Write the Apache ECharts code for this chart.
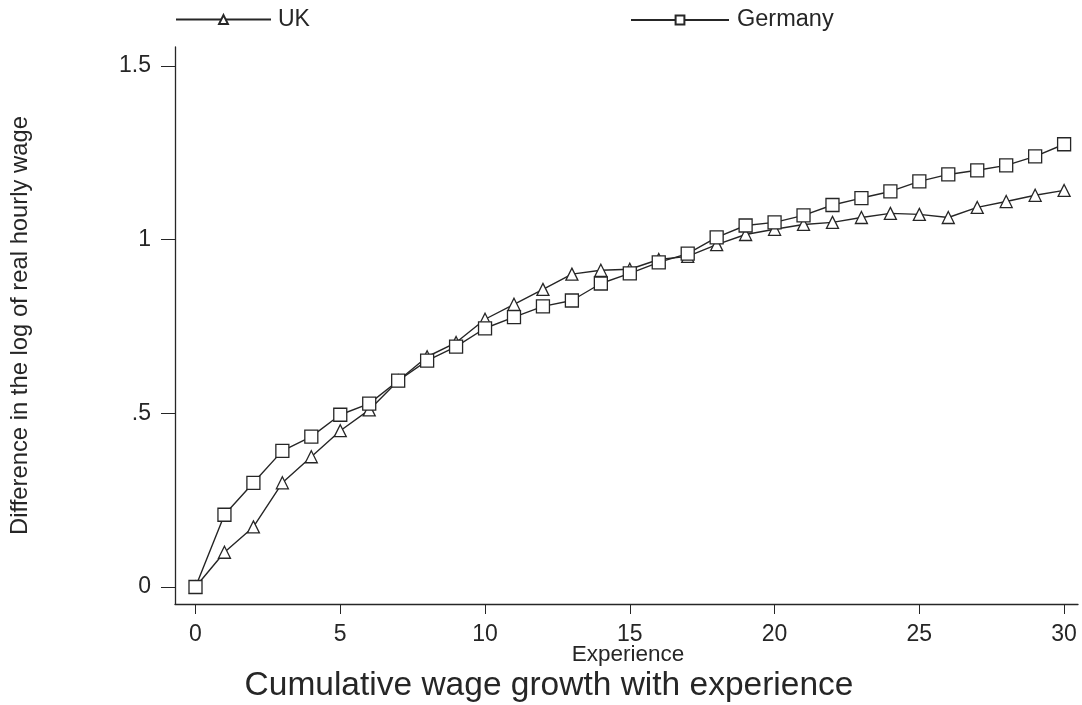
<!DOCTYPE html>
<html>
<head>
<meta charset="utf-8">
<title>Cumulative wage growth with experience</title>
<script src="https://cdn.jsdelivr.net/npm/echarts@6/dist/echarts.min.js"></script>
<style>
  html, body { margin: 0; padding: 0; background: #ffffff; }
  #chart { width: 1082px; height: 705px; }
</style>
</head>
<body>
<div id="chart"></div>
<script>
// Years of experience
const experience = [0,1,2,3,4,5,6,7,8,9,10,11,12,13,14,15,16,17,18,19,20,21,22,23,24,25,26,27,28,29,30];

// Difference in the log of real hourly wage, by country
const ukValues = [0, 0.10, 0.173, 0.30, 0.375, 0.45, 0.51, 0.594, 0.663, 0.704, 0.771, 0.814, 0.857,
  0.901, 0.912, 0.915, 0.943, 0.952, 0.986, 1.015, 1.03, 1.044, 1.05, 1.064, 1.076, 1.073,
  1.064, 1.093, 1.11, 1.128, 1.142];
const germanyValues = [0, 0.208, 0.30, 0.392, 0.433, 0.496, 0.528, 0.594, 0.652, 0.692, 0.745, 0.777,
  0.808, 0.825, 0.874, 0.903, 0.935, 0.96, 1.007, 1.041, 1.05, 1.07, 1.10, 1.12, 1.139, 1.168,
  1.188, 1.20, 1.214, 1.24, 1.275];

// Tick positions and labels
const xTicks = [0, 5, 10, 15, 20, 25, 30];
const yTicks = [0, 0.5, 1, 1.5];
const yTickLabels = ['0', '.5', '1', '1.5'];

const ink = '#262626';
const sans = "'Liberation Sans', Arial, Helvetica, sans-serif";

const pairs = (ys) => experience.map((x, i) => [x, ys[i]]);

const chart = echarts.init(document.getElementById('chart'), null, { renderer: 'canvas' });

const markerStyle = { color: '#ffffff', borderColor: ink, borderWidth: 1.3 };

chart.setOption({
  animation: false,
  backgroundColor: '#ffffff',
  grid: {
    left: 175, right: 4, top: 47, bottom: 101,
    containLabel: false, outerBoundsMode: 'none'
  },
  legend: [
    {
      data: ['UK'], left: 175, top: 8, padding: 0, itemWidth: 95, itemHeight: 11,
      textStyle: { fontFamily: sans, fontSize: 23, color: ink, padding: [0, 0, 0, 2] }
    },
    {
      data: ['Germany'], left: 630, top: 8, padding: 0, itemWidth: 98, itemHeight: 11,
      textStyle: { fontFamily: sans, fontSize: 23.5, color: ink, padding: [0, 0, 0, 3] }
    }
  ],
  xAxis: {
    type: 'value',
    min: -0.708,
    max: 30.48,
    splitLine: { show: false },
    axisLine: { show: true, onZero: false, lineStyle: { color: ink, width: 1.3 } },
    axisTick: { show: true, customValues: xTicks, length: 10, lineStyle: { color: ink } },
    axisLabel: {
      customValues: xTicks, margin: 19, color: ink, fontFamily: sans, fontSize: 23
    }
  },
  yAxis: {
    type: 'value',
    min: -0.049,
    max: 1.555,
    splitLine: { show: false },
    axisLine: { show: true, onZero: false, lineStyle: { color: ink, width: 1.3 } },
    axisTick: { show: true, customValues: yTicks, length: 14, lineStyle: { color: ink } },
    axisLabel: {
      customValues: yTicks, margin: 24, color: ink, fontFamily: sans, fontSize: 23,
      formatter: (v) => yTickLabels[yTicks.indexOf(Math.round(v * 10) / 10)] ?? ''
    },
    name: 'Difference in the log of real hourly wage',
    nameLocation: 'middle',
    nameGap: 143,
    nameTextStyle: { fontFamily: sans, fontSize: 23.8, color: ink }
  },
  graphic: [
    {
      // x-axis title
      type: 'text', x: 628, y: 655,
      style: {
        text: 'Experience',
        fill: ink, font: "22.5px 'Liberation Sans', Arial, Helvetica, sans-serif",
        textAlign: 'center', textVerticalAlign: 'middle'
      }
    },
    {
      // chart caption
      type: 'text', x: 549, y: 686,
      style: {
        text: 'Cumulative wage growth with experience',
        fill: ink, font: "33.5px 'Liberation Sans', Arial, Helvetica, sans-serif",
        textAlign: 'center', textVerticalAlign: 'middle'
      }
    }
  ],
  series: [
    {
      name: 'UK', type: 'line', data: pairs(ukValues),
      symbol: 'triangle', symbolSize: 12, showAllSymbol: true,
      lineStyle: { color: ink, width: 1.4 },
      itemStyle: markerStyle,
      emphasis: { disabled: true }
    },
    {
      name: 'Germany', type: 'line', data: pairs(germanyValues),
      symbol: 'rect', symbolSize: 13, showAllSymbol: true,
      lineStyle: { color: ink, width: 1.4 },
      itemStyle: markerStyle,
      emphasis: { disabled: true }
    }
  ]
});
</script>
</body>
</html>
